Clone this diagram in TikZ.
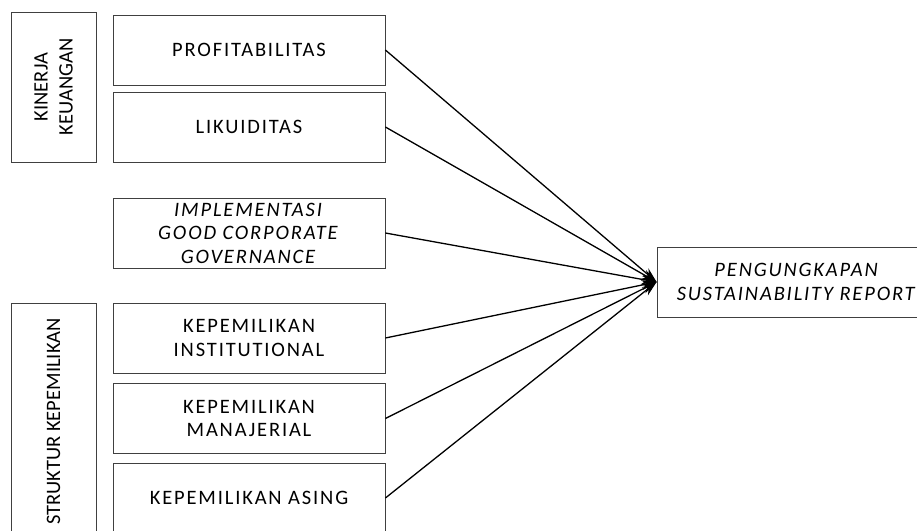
\documentclass[tikz,border=0pt]{standalone}
\usepackage{fontspec}
\setmainfont[LetterSpace=9]{Carlito}
\newfontfamily\grpfont{Carlito}
\usetikzlibrary{arrows.meta}
\begin{document}
\begin{tikzpicture}[x=1pt,y=-1pt]
	\tikzset{var/.style = {shape=rectangle,draw=black!75,line width=.8pt,minimum width=272pt,minimum height=70pt,inner sep=0pt,align=center,font=\fontsize{20.5}{23.5}\selectfont}}
	\tikzset{group/.style = {var,rotate=90,minimum height=85pt,font=\grpfont\fontsize{20.5}{25}\selectfont}}
	\tikzset{edge/.style = {-{Stealth[length=15pt,width=10pt]},line width=1.3pt}}
	\clip (0,0) rectangle (917,530);
	\useasboundingbox (0,0) rectangle (917,530);
	% kelompok
	\node[group,minimum width=150pt] (kk) at (53.5,87) {KINERJA\\KEUANGAN};
	\node[group,minimum width=237pt] (sk) at (53.5,421.5) {STRUKTUR KEPEMILIKAN};
	% variabel independen
	\node[var] (prof) at (249,50) {PROFITABILITAS};
	\node[var] (lik) at (249,127) {LIKUIDITAS};
	\node[var] (gcg) at (249,233) {\textit{IMPLEMENTASI}\\\textit{GOOD CORPORATE}\\\textit{GOVERNANCE}};
	\node[var] (inst) at (249,338) {KEPEMILIKAN\\INSTITUTIONAL};
	\node[var] (man) at (249,418.5) {KEPEMILIKAN\\MANAJERIAL};
	\node[var] (asing) at (249,498) {KEPEMILIKAN ASING};
	% variabel dependen
	\node[var,minimum width=280pt] (sr) at (797,282) {\textit{PENGUNGKAPAN}\\\textit{SUSTAINABILITY REPORT}};
	\draw[edge] (prof.east) -- (sr.west);
	\draw[edge] (lik.east) -- (sr.west);
	\draw[edge] (gcg.east) -- (sr.west);
	\draw[edge] (inst.east) -- (sr.west);
	\draw[edge] (man.east) -- (sr.west);
	\draw[edge] (asing.east) -- (sr.west);
\end{tikzpicture}
\end{document}
